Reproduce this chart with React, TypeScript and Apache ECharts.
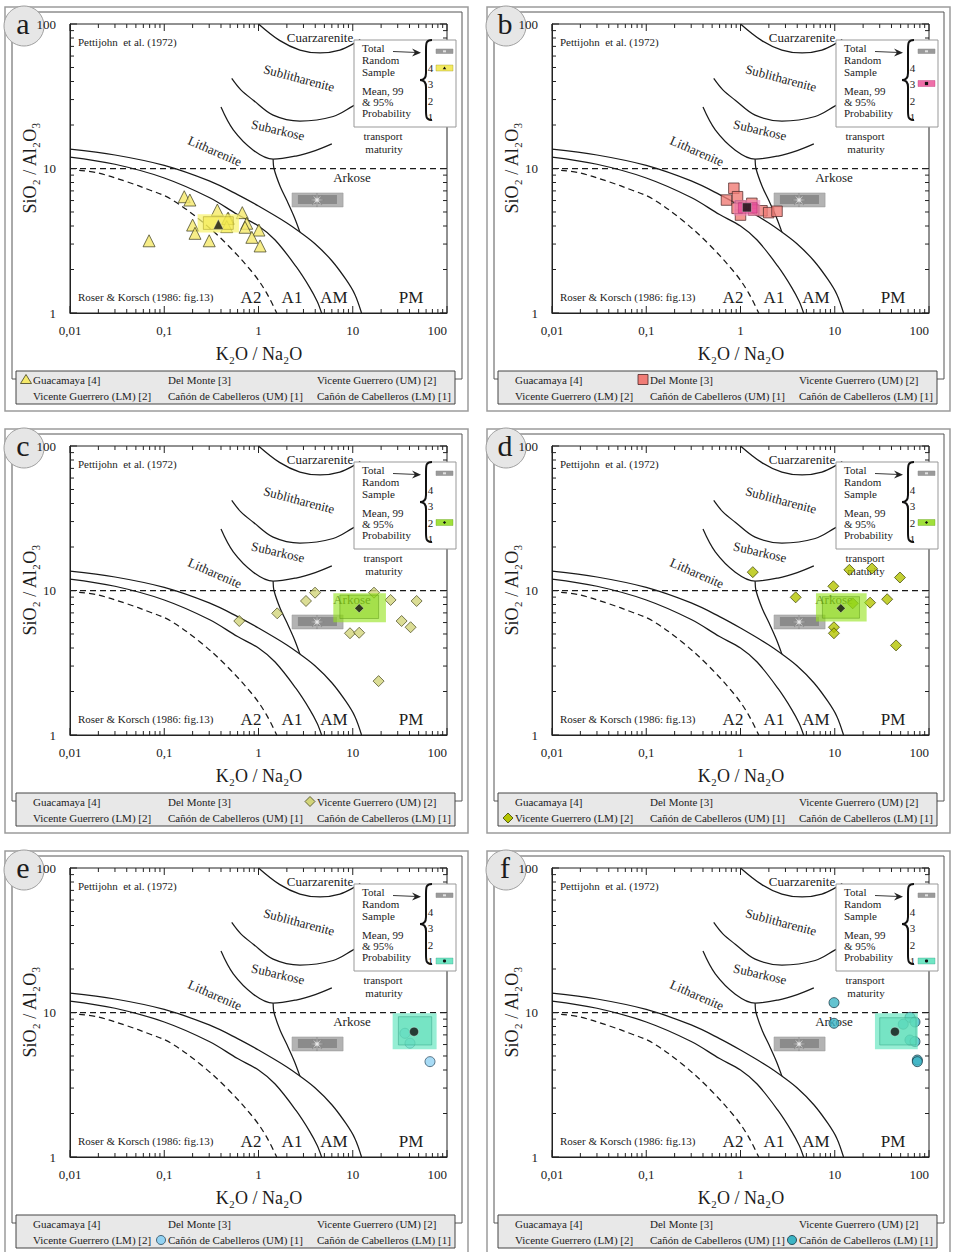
import React, { useEffect, useRef } from "react";
import * as echarts from "echarts";

const FONT = "'Liberation Serif', 'DejaVu Serif', serif";

// ---------- axis ticks ----------
const xTickValues = [0.01, 0.1, 1, 10, 100];
const xTickLabels = ["0,01", "0,1", "1", "10", "100"];
const yTickValues = [1, 10, 100];
const yTickLabels = ["1", "10", "100"];
const minorMultipliers = [2, 3, 4, 5, 6, 7, 8, 9];
const xDecades = [0.01, 0.1, 1, 10];
const yDecades = [1, 10];

// ---------- Pettijohn et al. (1972) field boundaries ----------
const cuarzareniteBoundary = [[1.0, 100], [1.67, 77], [2.75, 66], [4.5, 63], [7.3, 66], [10.6, 74], [12, 78]];
const sublithareniteBoundary = [[0.52, 42], [0.65, 35], [0.88, 29.7], [1.43, 23.4], [2.75, 21.3], [6.2, 22.9], [10, 27], [12, 29]];
const subarkoseBoundary = [[0.4, 26.6], [0.54, 18.5], [0.88, 13.4], [1.43, 11.6], [2.5, 12.2], [4, 13.3], [6, 14.8]];
const arkoseLithareniteBoundary = [[1.43, 11.6], [1.46, 10], [1.7, 7.5], [2.0, 6.0], [2.4, 4.6], [2.75, 3.63]];
const arkoseLine = [[0.01, 10], [100, 10]];

// ---------- Roser & Korsch (1986) boundaries ----------
const amPmBoundary = [[0.01, 13.6], [0.03, 12.4], [0.1, 10.5], [0.3, 8.2], [0.6, 6.6], [1, 5.5], [2, 4.2], [2.75, 3.63], [4, 3.0], [6, 2.3], [8.5, 1.7], [10.5, 1.35], [12.4, 1.0]];
const a1AmBoundary = [[0.01, 12.0], [0.03, 10.7], [0.1, 8.6], [0.3, 6.3], [0.6, 4.8], [1, 4.0], [1.5, 3.2], [2.5, 2.1], [3.5, 1.5], [4.2, 1.2], [4.67, 1.0]];
const a2A1Boundary = [[0.0125, 9.7], [0.02, 9.3], [0.04, 8.1], [0.07, 7.1], [0.115, 6.2], [0.24, 4.4], [0.46, 3.0], [0.88, 1.88], [1.2, 1.4], [1.56, 1.0]];

// ---------- total random sample (mean, 99 %, 95 %) ----------
const totalMean = [4.18, 6.05];
const totalCI99 = [2.27, 5.42, 7.9, 6.77];
const totalCI95 = [2.62, 5.68, 6.8, 6.56];

// ---------- samples ----------
const guacamaya = [[0.163, 6.38], [0.187, 6.05], [0.366, 5.16], [0.673, 4.95], [0.479, 4.52], [0.75, 4.18], [0.2, 4.06], [0.72, 3.92], [1.01, 3.75], [0.212, 3.56], [0.85, 3.34], [0.3, 3.16], [0.069, 3.16], [1.04, 2.91], [0.47, 4.5], [0.46, 3.96]];
const guacamayaMean = [0.375, 4.11];
const guacamayaCI99 = [0.226, 3.6, 0.62, 4.82];
const guacamayaCI95 = [0.26, 3.79, 0.54, 4.64];

const delMonte = [[0.85, 7.3], [0.71, 6.05], [0.93, 6.38], [1.0, 5.5], [1.32, 5.74], [1.0, 4.76], [1.69, 5.1], [1.99, 4.95], [2.44, 5.06], [1.38, 5.16], [0.92, 5.3]];
const delMonteMean = [1.17, 5.38];
const delMonteCI99 = [0.85, 4.72, 1.62, 6.05];
const delMonteCI95 = [0.95, 4.91, 1.5, 5.8];

const vgUM = [[0.625, 6.15], [1.58, 6.95], [3.19, 8.46], [3.98, 9.66], [16.8, 9.66], [25.2, 8.6], [47.6, 8.46], [33, 6.15], [41.1, 5.57], [9.35, 5.06], [11.7, 5.1], [18.8, 2.36]];
const vgUMMean = [11.7, 7.53];
const vgUMCI99 = [6.22, 6.03, 22.5, 9.57];
const vgUMCI95 = [7.3, 6.4, 18.8, 9.3];

const vgLM = [[1.35, 13.4], [14.3, 13.9], [24.8, 14.2], [49.2, 12.3], [9.66, 10.7], [3.85, 8.97], [15.5, 8.15], [23.7, 8.24], [36, 8.7], [9.8, 5.57], [9.8, 5.06], [44.7, 4.17]];
const vgLMMean = [11.6, 7.53];
const vgLMCI99 = [6.32, 6.1, 21.8, 9.57];
const vgLMCI95 = [7.4, 6.43, 18.3, 9.07];

const ccUM = [[35.8, 7.18], [40.5, 6.13], [66, 4.57]];
const ccUMMean = [44.7, 7.37];
const ccUMCI99 = [26.5, 5.57, 77.6, 9.87];
const ccUMCI95 = [30.5, 5.96, 68.8, 9.35];

const ccLM = [[9.82, 11.7], [9.82, 8.42], [62.8, 9.26], [71, 8.6], [53.3, 8.3], [62.8, 6.45], [71, 6.29], [75.2, 4.69], [75.2, 4.57]];
const ccLMMean = [43.5, 7.37];
const ccLMCI99 = [26.7, 5.57, 76, 9.87];
const ccLMCI95 = [30, 5.96, 73, 9.2];

// ---------- texts ----------
const legendLabels = ["Guacamaya [4]", "Del Monte [3]", "Vicente Guerrero (UM) [2]", "Vicente Guerrero (LM) [2]", "Cañón de Cabelleros (UM) [1]", "Cañón de Cabelleros (LM) [1]"];
const insetNumbers = ["4", "3", "2", "1"];

const panels = [
  { letter: "a", data: guacamaya, mean: guacamayaMean, ci99: guacamayaCI99, ci95: guacamayaCI95, symbol: "triangle", size: 12, color: "#f5e96a", border: "#3d3d1e", outer: "rgba(248,242,110,0.72)", inner: "rgba(242,230,60,0.5)", stroke: "rgba(170,160,40,0.7)", icon: "#f3ea60", legendIdx: 0, insetRow: 0 },
  { letter: "b", data: delMonte, mean: delMonteMean, ci99: delMonteCI99, ci95: delMonteCI95, symbol: "rect", size: 10.5, color: "#f07c76", border: "#4a2626", outer: "rgba(240,130,185,0.65)", inner: "rgba(230,60,150,0.6)", stroke: "rgba(180,40,110,0.6)", icon: "#ee6fa8", legendIdx: 1, insetRow: 1 },
  { letter: "c", data: vgUM, mean: vgUMMean, ci99: vgUMCI99, ci95: vgUMCI95, symbol: "diamond", size: 11, color: "#d2d47a", border: "#45451c", outer: "rgba(150,228,30,0.62)", inner: "rgba(130,205,20,0.42)", stroke: "rgba(90,150,20,0.6)", icon: "#a0e03a", legendIdx: 2, insetRow: 2 },
  { letter: "d", data: vgLM, mean: vgLMMean, ci99: vgLMCI99, ci95: vgLMCI95, symbol: "diamond", size: 11, color: "#b4c400", border: "#3a4000", outer: "rgba(150,228,30,0.62)", inner: "rgba(130,205,20,0.42)", stroke: "rgba(90,150,20,0.6)", icon: "#a0e03a", legendIdx: 3, insetRow: 2 },
  { letter: "e", data: ccUM, mean: ccUMMean, ci99: ccUMCI99, ci95: ccUMCI95, symbol: "circle", size: 10, color: "#92d2f2", border: "#28465a", outer: "rgba(110,232,195,0.72)", inner: "rgba(85,218,180,0.5)", stroke: "rgba(50,160,130,0.6)", icon: "#70e6c4", legendIdx: 4, insetRow: 3 },
  { letter: "f", data: ccLM, mean: ccLMMean, ci99: ccLMCI99, ci95: ccLMCI95, symbol: "circle", size: 10, color: "#3cb4c4", border: "#12303c", outer: "rgba(110,232,195,0.72)", inner: "rgba(85,218,180,0.5)", stroke: "rgba(50,160,130,0.6)", icon: "#70e6c4", legendIdx: 5, insetRow: 3 },
];

// star symbol for the total-sample mean
const starPts: string[] = [];
for (let k = 0; k < 16; k++) {
  const a = (k * Math.PI) / 8 - Math.PI / 2;
  const r = k % 2 === 0 ? 10 : 2.6;
  starPts.push(`${(10 + r * Math.cos(a)).toFixed(2)} ${(10 + r * Math.sin(a)).toFixed(2)}`);
}
const STAR = "path://M" + starPts.join(" L") + " Z";

// curly brace for the inset
echarts.graphic.registerShape(
  "brace",
  echarts.graphic.extendPath("M 12 0 C 6 0 6 3 6 10 L 6 33 C 6 37 4 40 0 40 C 4 40 6 43 6 47 L 6 70 C 6 77 6 80 12 80", {}) as any
);

const xTicks: number[][] = [];
xTickValues.forEach((v) => xTicks.push([v, 7]));
xDecades.forEach((d) => minorMultipliers.forEach((m) => xTicks.push([+(m * d).toPrecision(3), 4])));
const yTicks: number[][] = [];
yTickValues.forEach((v) => yTicks.push([7, v]));
yDecades.forEach((d) => minorMultipliers.forEach((m) => yTicks.push([4, +(m * d).toPrecision(3)])));

const INSET_ROW_Y = [68, 83.5, 100.5, 117];

function txt(x: number, y: number, text: string, size: number, o: any = {}) {
  return {
    type: "text", x, y, rotation: o.rot || 0, z: o.z ?? 1, silent: true,
    style: {
      text, x: 0, y: 0, fill: o.color || "#1c1c1c", fontSize: size, fontFamily: FONT,
      align: o.align || "left", textAlign: o.align || "left",
      verticalAlign: "middle", textVerticalAlign: "middle",
    },
  };
}

function marker(symbol: string, cx: number, cy: number, r: number, fill: string, stroke: string, z: number) {
  const style = { fill, stroke, lineWidth: stroke === "none" ? 0 : 0.8 };
  if (symbol === "triangle") return { type: "polygon", z, silent: true, shape: { points: [[cx, cy - r], [cx + r * 1.1, cy + r * 0.8], [cx - r * 1.1, cy + r * 0.8]] }, style };
  if (symbol === "rect") return { type: "rect", z, silent: true, shape: { x: cx - r, y: cy - r, width: 2 * r, height: 2 * r }, style };
  if (symbol === "diamond") return { type: "polygon", z, silent: true, shape: { points: [[cx, cy - r], [cx + r, cy], [cx, cy + r], [cx - r, cy]] }, style };
  return { type: "circle", z, silent: true, shape: { cx, cy, r }, style };
}

function boxSeries(i: number, boxes: number[][], styles: any[], z: number) {
  return {
    type: "custom", xAxisIndex: i, yAxisIndex: i, z, silent: true, clip: false,
    encode: { x: [0, 2], y: [1, 3] },
    data: boxes,
    renderItem: (params: any, api: any) => {
      const p1 = api.coord([api.value(0), api.value(1)]);
      const p2 = api.coord([api.value(2), api.value(3)]);
      return {
        type: "rect",
        shape: { x: Math.min(p1[0], p2[0]), y: Math.min(p1[1], p2[1]), width: Math.abs(p2[0] - p1[0]), height: Math.abs(p2[1] - p1[1]) },
        style: styles[params.dataIndex],
      };
    },
  };
}

function lineSeries(i: number, data: number[][], dashed = false, smooth: any = 0.35) {
  return {
    type: "line", xAxisIndex: i, yAxisIndex: i, data, symbol: "none", showSymbol: false, smooth, silent: true, z: 2,
    lineStyle: { color: "#1a1a1a", width: 1.25, type: dashed ? [6, 4] : "solid" },
  };
}

function buildOption() {
  const grid: any[] = [], xAxis: any[] = [], yAxis: any[] = [], series: any[] = [], graphic: any[] = [];
  panels.forEach((p, i) => {
    const dx = (i % 2) * 482, dy = Math.floor(i / 2) * 422;
    const X = (v: number) => v + dx, Y = (v: number) => v + dy;
    grid.push({ left: X(70), top: Y(24), width: 377, height: 289, show: true, borderColor: "#222", borderWidth: 1, backgroundColor: "transparent" });
    xAxis.push({
      type: "log", logBase: 10, gridIndex: i, min: 0.01, max: 100, splitNumber: 4,
      axisLine: { show: true, lineStyle: { color: "#222", width: 1 } }, axisTick: { show: false }, splitLine: { show: false },
      axisLabel: { margin: 11, fontSize: 13, fontFamily: FONT, color: "#222", alignMaxLabel: "right",
        formatter: (v: number) => xTickLabels[Math.round(Math.log10(v)) + 2] ?? "" },
    });
    yAxis.push({
      type: "log", logBase: 10, gridIndex: i, min: 1, max: 100, splitNumber: 2,
      axisLine: { show: true, lineStyle: { color: "#222", width: 1 } }, axisTick: { show: false }, splitLine: { show: false },
      axisLabel: { margin: 14, fontSize: 13, fontFamily: FONT, color: "#222",
        formatter: (v: number) => yTickLabels[Math.round(Math.log10(v))] ?? "" },
    });
    const ax = { xAxisIndex: i, yAxisIndex: i };
    // ticks (inside, on the four sides)
    series.push({
      type: "custom", ...ax, z: 3, silent: true, clip: false, data: xTicks,
      renderItem: (params: any, api: any) => {
        const v = api.value(0), len = api.value(1);
        const b = api.coord([v, 1]), t = api.coord([v, 100]);
        return { type: "group", children: [
          { type: "line", shape: { x1: b[0], y1: b[1], x2: b[0], y2: b[1] - len }, style: { stroke: "#222", lineWidth: 1 } },
          { type: "line", shape: { x1: t[0], y1: t[1], x2: t[0], y2: t[1] + len }, style: { stroke: "#222", lineWidth: 1 } },
        ] };
      },
    });
    series.push({
      type: "custom", ...ax, z: 3, silent: true, clip: false, data: yTicks,
      renderItem: (params: any, api: any) => {
        const len = api.value(0), v = api.value(1);
        const l = api.coord([0.01, v]), r = api.coord([100, v]);
        return { type: "group", children: [
          { type: "line", shape: { x1: l[0], y1: l[1], x2: l[0] + len, y2: l[1] }, style: { stroke: "#222", lineWidth: 1 } },
          { type: "line", shape: { x1: r[0], y1: r[1], x2: r[0] - len, y2: r[1] }, style: { stroke: "#222", lineWidth: 1 } },
        ] };
      },
    });
    // boundaries
    series.push(lineSeries(i, cuarzareniteBoundary));
    series.push(lineSeries(i, sublithareniteBoundary));
    series.push(lineSeries(i, subarkoseBoundary));
    series.push(lineSeries(i, arkoseLithareniteBoundary, false, 0.3));
    series.push(lineSeries(i, amPmBoundary));
    series.push(lineSeries(i, a1AmBoundary));
    series.push(lineSeries(i, a2A1Boundary, true));
    series.push(lineSeries(i, arkoseLine, true, false));
    // total random sample
    series.push(boxSeries(i, [totalCI99, totalCI95], [
      { fill: "rgba(160,160,160,0.8)", stroke: "rgba(150,150,150,0.9)", lineWidth: 0.6 },
      { fill: "rgba(118,118,118,0.65)", stroke: "none" },
    ], 4));
    series.push({ type: "scatter", ...ax, z: 5, silent: true, data: [totalMean], symbol: STAR, symbolSize: 14,
      itemStyle: { color: "#ffffff", borderColor: "#777", borderWidth: 0.5 } });
    // samples
    series.push({ type: "scatter", ...ax, z: 6, silent: true, data: p.data, symbol: p.symbol, symbolSize: p.size,
      itemStyle: { color: p.color, borderColor: p.border, borderWidth: 0.9 } });
    series.push(boxSeries(i, [p.ci99, p.ci95], [
      { fill: p.outer, stroke: "none" },
      { fill: p.inner, stroke: p.stroke, lineWidth: 0.8 },
    ], 7));
    series.push({ type: "scatter", ...ax, z: 8, silent: true, data: [p.mean], symbol: p.symbol, symbolSize: p.symbol === "triangle" ? 10 : 9,
      itemStyle: { color: "#111", borderColor: "#fff", borderWidth: 0.4 } });

    // ---------- graphics ----------
    graphic.push({ type: "rect", z: 0, silent: true, shape: { x: X(5), y: Y(7), width: 463, height: 404 }, style: { fill: "none", stroke: "#9c9c9c", lineWidth: 1.5 } });
    graphic.push({ type: "rect", z: 0, silent: true, shape: { x: X(12), y: Y(12), width: 450, height: 367 }, style: { fill: "none", stroke: "#555", lineWidth: 1 } });
    graphic.push({ type: "rect", z: 1, silent: true, shape: { x: X(16), y: Y(371), width: 439, height: 33 }, style: { fill: "#e8e8e8", stroke: "#444", lineWidth: 1 } });
    const cols = [33, 168, 317], rows = [379.5, 396];
    legendLabels.forEach((lab, k) => {
      graphic.push(txt(X(cols[k % 3]), Y(rows[Math.floor(k / 3)]), lab, 11, { z: 2 }));
    });
    const lk = p.legendIdx;
    graphic.push(marker(p.symbol, X(cols[lk % 3] - 7), Y(rows[Math.floor(lk / 3)]), p.symbol === "circle" ? 4.5 : 5, p.color, p.border, 3));
    // panel letter
    graphic.push({ type: "circle", z: 0, silent: true, shape: { cx: X(24), cy: Y(26), r: 20 }, style: { fill: "#e6e6e6", stroke: "#a0a0a0", lineWidth: 1 } });
    graphic.push(txt(X(23), Y(23), p.letter, 30, { align: "center", z: 1 }));
    // axis titles
    graphic.push(txt(X(259), Y(354), "K₂O / Na₂O", 18, { align: "center" }));
    graphic.push(txt(X(30), Y(168), "SiO₂ / Al₂O₃", 18, { align: "center", rot: Math.PI / 2 }));
    // field labels
    graphic.push(txt(X(78), Y(42), "Pettijohn  et al. (1972)", 11));
    graphic.push(txt(X(320), Y(37), "Cuarzarenite", 13, { align: "center" }));
    graphic.push(txt(X(299), Y(78), "Sublitharenite", 13, { align: "center", rot: -0.26 }));
    graphic.push(txt(X(278), Y(130), "Subarkose", 13, { align: "center", rot: -0.23 }));
    graphic.push(txt(X(215), Y(151), "Litharenite", 13, { align: "center", rot: -0.41 }));
    graphic.push(txt(X(352), Y(177), "Arkose", 13, { align: "center" }));
    graphic.push(txt(X(383), Y(136), "transport", 11, { align: "center" }));
    graphic.push(txt(X(384), Y(149), "maturity", 11, { align: "center" }));
    graphic.push(txt(X(78), Y(297), "Roser & Korsch (1986: fig.13)", 11));
    graphic.push(txt(X(251), Y(297), "A2", 17, { align: "center" }));
    graphic.push(txt(X(292), Y(297), "A1", 17, { align: "center" }));
    graphic.push(txt(X(334), Y(297), "AM", 17, { align: "center" }));
    graphic.push(txt(X(411), Y(297), "PM", 17, { align: "center" }));
    // inset legend
    graphic.push({ type: "rect", z: 50, silent: true, shape: { x: X(354), y: Y(40), width: 102, height: 87 }, style: { fill: "#ffffff", stroke: "#999", lineWidth: 1 } });
    const insetTxt = [["Total", 48], ["Random", 60], ["Sample", 71.5], ["Mean, 99", 90.5], ["& 95%", 101.5], ["Probability", 112.5]];
    insetTxt.forEach(([t, y]) => graphic.push(txt(X(362), Y(y as number), t as string, 11, { z: 51 })));
    graphic.push({ type: "line", z: 51, silent: true, shape: { x1: X(393), y1: Y(51.5), x2: X(417), y2: Y(52.5) }, style: { stroke: "#222", lineWidth: 0.9 } });
    graphic.push({ type: "polygon", z: 51, silent: true, shape: { points: [[X(412), Y(48.5)], [X(421), Y(52.7)], [X(412), Y(56.5)], [X(415), Y(52.6)]] }, style: { fill: "#222" } });
    graphic.push({ type: "brace", z: 51, silent: true, x: X(420), y: Y(40), style: { fill: "none", stroke: "#111", lineWidth: 2 } });
    insetNumbers.forEach((n, k) => graphic.push(txt(X(430.5), Y(INSET_ROW_Y[k]), n, 11, { align: "center", z: 52 })));
    graphic.push({ type: "rect", z: 51, silent: true, shape: { x: X(436), y: Y(49), width: 17, height: 4.5 }, style: { fill: "#9a9a9a", stroke: "#888", lineWidth: 0.5 } });
    graphic.push({ type: "rect", z: 52, silent: true, shape: { x: X(443), y: Y(50.3), width: 3, height: 2 }, style: { fill: "#e0e0e0" } });
    const iy = INSET_ROW_Y[p.insetRow];
    graphic.push({ type: "rect", z: 51, silent: true, shape: { x: X(436), y: Y(iy - 3), width: 17, height: 6 }, style: { fill: p.icon, stroke: p.stroke, lineWidth: 0.6 } });
    graphic.push(marker(p.symbol, X(444.5), Y(iy), 1.6, "#111", "none", 52));
  });
  return { animation: false, backgroundColor: "#ffffff", grid, xAxis, yAxis, series, graphic };
}

export default function App() {
  const ref = useRef<HTMLDivElement>(null);
  useEffect(() => {
    const chart = echarts.init(ref.current!, null, { renderer: "svg" });
    chart.setOption(buildOption() as any);
    return () => chart.dispose();
  }, []);
  return <div ref={ref} style={{ position: "absolute", left: 0, top: 0, width: 954, height: 1252, background: "#fff" }} />;
}
